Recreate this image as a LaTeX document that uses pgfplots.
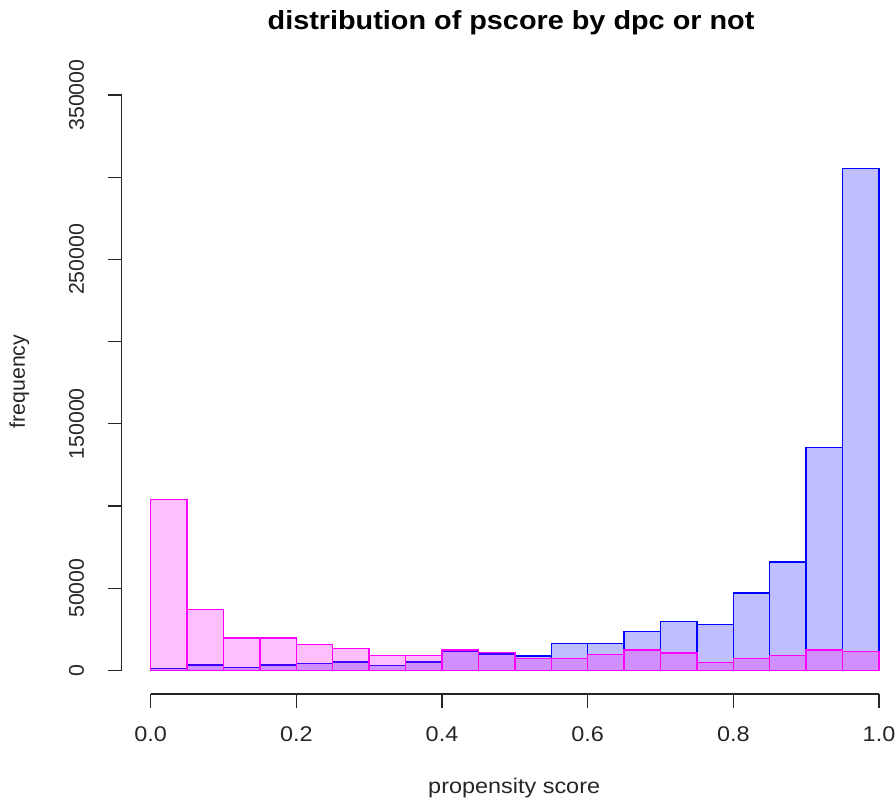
\documentclass[border=0pt]{standalone}
\usepackage{pgfplots}
\pgfplotsset{compat=1.18}
\usepackage{fontspec}
\setmainfont{Liberation Sans}[FakeStretch=1.1]
\newfontfamily\rotfont{Liberation Sans}
\definecolor{rblue}{RGB}{0,0,255}
\definecolor{rmag}{RGB}{255,0,255}
\begin{document}
\begin{tikzpicture}
\useasboundingbox (0,0) rectangle (896bp,-800bp);
\begin{axis}[
  at={(121.5bp,-694bp)}, anchor=south west,
  scale only axis, width=772.07bp, height=615.44bp,
  xmin=-0.0401, xmax=1.02, ymin=-14420, ymax=360000,
  clip=false,
  axis x line*=bottom, axis y line*=left,
  axis line style={draw=none},
  tick align=outside, major tick length=13.5bp,
  tick style={draw=black!85, line width=1.2bp},
  xtick={0,0.2,0.4,0.6,0.8,1.0},
  xticklabels={0.0,0.2,0.4,0.6,0.8,1.0},
  ytick={0,50000,100000,150000,200000,250000,300000,350000},
  yticklabels={0,50000,,150000,,250000,,350000},
  scaled y ticks=false,
  /pgf/number format/assume math mode=true,
  xticklabel style={font=\fontsize{21.3bp}{25bp}\selectfont, text=black!85, anchor=center, yshift=-27bp},
  yticklabel style={font=\rotfont\fontsize{21.3bp}{25bp}\selectfont, text=black!85, anchor=center, xshift=-31.5bp, rotate=90},
  every axis title shift=0pt,
  title={distribution of pscore by dpc or not},
  title style={font=\bfseries\fontsize{26.2bp}{30bp}\selectfont, anchor=base, at={(axis description cs:0.5045,1.0797)}},
  xlabel={propensity score},
  xlabel style={font=\fontsize{21.3bp}{25bp}\selectfont, text=black!85, anchor=base, at={(axis description cs:0.5086,-0.1609)}},
  ylabel={frequency},
  ylabel style={font=\rotfont\fontsize{21.3bp}{25bp}\selectfont, text=black!85, rotate=0, anchor=base, at={(axis description cs:-0.125,0.5078)}},
]
% treated (blue)
\addplot[ybar interval, draw=rblue, fill=rblue, fill opacity=0.25, draw opacity=1, line width=1.4bp] coordinates {
(0.00,1200) (0.05,3300) (0.10,1600) (0.15,3300) (0.20,4100) (0.25,5000) (0.30,3100) (0.35,5000)
(0.40,11800) (0.45,10000) (0.50,8800) (0.55,16400) (0.60,16200) (0.65,23700) (0.70,29600)
(0.75,27800) (0.80,47100) (0.85,66000) (0.90,135600) (0.95,305200) (1.00,305200)};
% control (magenta)
\addplot[ybar interval, draw=rmag, fill=rmag, fill opacity=0.25, draw opacity=1, line width=1.4bp] coordinates {
(0.00,104000) (0.05,37100) (0.10,19700) (0.15,19700) (0.20,15800) (0.25,13200) (0.30,9100) (0.35,9100)
(0.40,12400) (0.45,10900) (0.50,7300) (0.55,7300) (0.60,9700) (0.65,12400) (0.70,10600)
(0.75,4700) (0.80,7300) (0.85,9000) (0.90,12400) (0.95,11600) (1.00,11600)};
\draw[black!85, line width=1.2bp] (axis cs:0,-14420) -- (axis cs:1,-14420);
\draw[black!85, line width=1.2bp] (axis cs:-0.0401,0) -- (axis cs:-0.0401,350000);
\end{axis}
\end{tikzpicture}
\end{document}
